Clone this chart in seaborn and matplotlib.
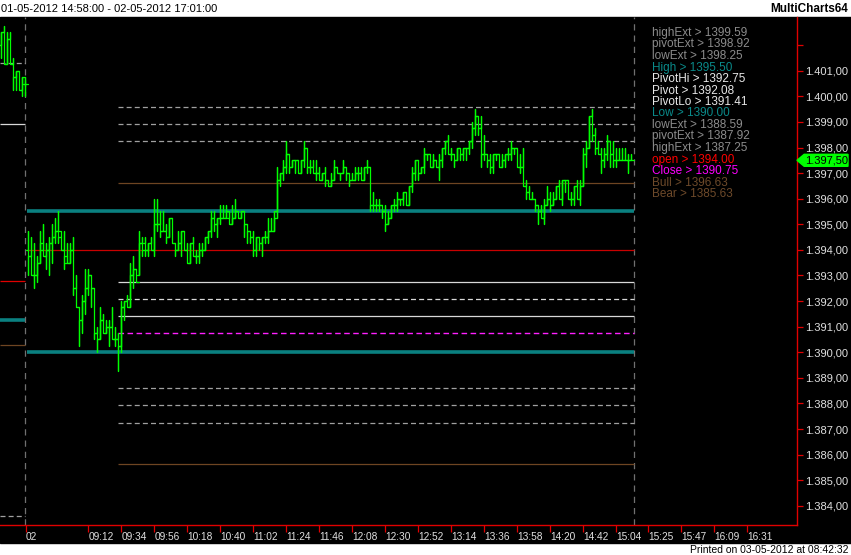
import numpy as np
import pandas as pd
import matplotlib
matplotlib.use("Agg")
import matplotlib.pyplot as plt
import matplotlib.transforms as mtransforms
from matplotlib.patches import Polygon, Rectangle
import seaborn as sns

# tail of previous session (01-05), plotted left of the day separator
prev_open = [1402.0, 1402.5, 1401.25, 1402.25, 1401.25, 1400.75, 1401.0, 1400.25, 1400.5]
prev_high = [1402.5, 1402.75, 1402.5, 1402.5, 1401.5, 1401.0, 1401.0, 1400.75, 1400.75]
prev_low = [1401.5, 1401.25, 1401.25, 1401.25, 1400.25, 1400.25, 1400.25, 1400.0, 1400.0]
prev_close = [1402.5, 1401.25, 1402.25, 1401.25, 1400.75, 1401.0, 1400.25, 1400.75, 1400.5]

# session 02-05, 2-minute bars (first bar closes 08:32)
bar_open = [
    1394.0, 1393.75, 1393.0, 1393.0, 1393.5, 1394.0, 1393.75, 1394.0, 1394.25, 1394.5,
    1394.75, 1394.75, 1394.0, 1393.5, 1393.5, 1394.0, 1392.5, 1391.75, 1391.25, 1392.0,
    1392.5, 1393.0, 1392.5, 1390.75, 1390.5, 1391.25, 1390.75, 1391.0, 1391.0, 1390.5,
    1390.5, 1390.25, 1391.75, 1392.0, 1391.75, 1393.0, 1393.25, 1393.0, 1394.25, 1394.25,
    1394.0, 1394.25, 1394.0, 1395.0, 1395.0, 1394.75, 1394.75, 1394.5, 1395.25, 1394.25,
    1394.0, 1394.25, 1394.75, 1394.0, 1393.5, 1394.25, 1393.75, 1393.75, 1394.0, 1394.0,
    1394.5, 1394.75, 1395.25, 1395.0, 1395.25, 1395.25, 1395.25, 1395.25, 1395.0, 1395.25,
    1395.5, 1395.25, 1395.5, 1395.0, 1394.75, 1394.5, 1394.0, 1394.5, 1394.25, 1394.5,
    1394.5, 1394.75, 1394.75, 1395.5, 1396.75, 1397.0, 1397.25, 1397.75, 1397.25, 1397.5,
    1397.5, 1397.0, 1397.5, 1398.0, 1397.25, 1397.25, 1397.0, 1397.0, 1396.75, 1397.0,
    1396.75, 1396.5, 1396.75, 1397.25, 1397.0, 1397.0, 1397.25, 1397.0, 1396.75, 1396.75,
    1397.0, 1397.0, 1396.75, 1397.25, 1397.25, 1395.75, 1395.75, 1395.75, 1395.75, 1395.5,
    1395.0, 1395.25, 1395.75, 1395.75, 1396.0, 1396.0, 1396.25, 1395.75, 1396.5, 1397.0,
    1397.5, 1397.0, 1397.25, 1397.75, 1397.75, 1397.25, 1397.5, 1397.25, 1397.5, 1398.0,
    1398.25, 1397.75, 1397.75, 1397.5, 1398.0, 1397.75, 1398.0, 1398.0, 1398.25, 1398.75,
    1399.25, 1398.75, 1397.75, 1397.75, 1397.5, 1397.25, 1397.75, 1397.75, 1397.25, 1397.5,
    1397.75, 1397.75, 1398.0, 1398.0, 1397.25, 1397.25, 1396.5, 1396.25, 1396.0, 1396.0,
    1395.75, 1395.5, 1395.25, 1395.75, 1396.0, 1395.75, 1396.0, 1396.5, 1396.0, 1396.75,
    1396.75, 1396.0, 1396.0, 1396.5, 1396.0, 1396.5, 1397.75, 1398.0, 1399.25, 1398.5,
    1398.0, 1397.75, 1397.5, 1397.75, 1398.25, 1397.75, 1397.5, 1397.5, 1397.5, 1397.5,
    1397.5, 1397.5,
]
bar_high = [
    1394.75, 1394.5, 1394.25, 1393.75, 1394.75, 1395.0, 1394.25, 1394.5, 1395.0, 1395.25,
    1395.5, 1394.75, 1394.75, 1394.25, 1394.25, 1394.5, 1393.0, 1391.75, 1392.25, 1393.25,
    1393.25, 1393.0, 1392.5, 1391.0, 1391.75, 1391.5, 1391.25, 1391.25, 1391.75, 1391.0,
    1390.75, 1392.0, 1392.0, 1392.25, 1393.5, 1393.75, 1393.25, 1394.75, 1394.5, 1394.5,
    1394.25, 1394.5, 1396.0, 1396.0, 1395.5, 1395.5, 1395.0, 1395.25, 1395.25, 1394.25,
    1394.75, 1394.75, 1394.75, 1394.25, 1394.25, 1394.5, 1394.0, 1394.25, 1394.25, 1394.5,
    1394.75, 1395.5, 1395.5, 1395.25, 1395.75, 1395.75, 1395.75, 1395.5, 1395.75, 1396.0,
    1395.5, 1395.5, 1395.5, 1395.0, 1394.75, 1394.75, 1394.5, 1394.5, 1394.5, 1394.75,
    1395.25, 1395.25, 1395.5, 1397.25, 1397.0, 1397.5, 1398.25, 1397.75, 1397.5, 1397.5,
    1397.5, 1397.5, 1398.25, 1398.0, 1397.5, 1397.5, 1397.5, 1397.25, 1397.0, 1397.25,
    1396.75, 1397.0, 1397.5, 1397.25, 1397.0, 1397.5, 1397.25, 1397.0, 1397.0, 1397.25,
    1397.25, 1397.25, 1397.25, 1397.5, 1397.25, 1396.25, 1396.0, 1396.0, 1395.75, 1395.75,
    1395.5, 1395.75, 1396.0, 1396.25, 1396.0, 1396.25, 1396.25, 1396.5, 1397.25, 1397.5,
    1397.5, 1397.25, 1398.0, 1397.75, 1397.75, 1397.75, 1397.5, 1397.75, 1398.0, 1398.25,
    1398.5, 1398.0, 1397.75, 1398.0, 1398.0, 1398.0, 1398.0, 1398.25, 1399.0, 1399.5,
    1399.25, 1399.25, 1398.5, 1397.75, 1397.75, 1397.75, 1397.75, 1397.75, 1397.75, 1397.75,
    1398.0, 1398.25, 1398.0, 1398.0, 1397.75, 1398.0, 1396.75, 1396.5, 1396.25, 1396.0,
    1395.75, 1395.75, 1396.0, 1396.5, 1396.25, 1396.25, 1396.5, 1396.75, 1396.75, 1396.75,
    1396.75, 1396.25, 1396.5, 1396.75, 1396.75, 1398.0, 1398.25, 1399.25, 1399.5, 1398.75,
    1398.25, 1398.0, 1398.0, 1398.5, 1398.25, 1398.25, 1398.0, 1398.0, 1398.0, 1398.0,
    1397.75, 1397.75,
]
bar_low = [
    1393.0, 1393.0, 1392.5, 1392.75, 1393.5, 1393.75, 1393.25, 1393.0, 1393.5, 1394.25,
    1394.25, 1394.0, 1393.25, 1393.5, 1393.5, 1392.25, 1391.75, 1390.25, 1390.75, 1391.5,
    1392.25, 1391.75, 1390.5, 1390.0, 1390.5, 1390.75, 1390.75, 1390.25, 1390.5, 1390.25,
    1389.25, 1390.0, 1391.25, 1391.75, 1391.75, 1392.5, 1392.75, 1393.0, 1393.75, 1393.75,
    1393.75, 1394.0, 1393.75, 1394.75, 1394.5, 1394.75, 1394.25, 1394.5, 1394.25, 1393.75,
    1394.0, 1393.75, 1394.0, 1393.5, 1393.5, 1393.75, 1393.5, 1393.5, 1393.75, 1394.0,
    1394.25, 1394.5, 1394.75, 1394.5, 1395.0, 1395.25, 1395.25, 1395.0, 1395.0, 1395.25,
    1395.25, 1395.25, 1394.5, 1394.25, 1394.25, 1393.75, 1393.75, 1394.0, 1393.75, 1394.25,
    1394.25, 1394.75, 1394.75, 1395.25, 1396.5, 1396.75, 1397.0, 1397.0, 1397.25, 1397.0,
    1397.0, 1397.0, 1397.25, 1397.0, 1397.0, 1397.0, 1396.75, 1396.75, 1396.75, 1396.5,
    1396.5, 1396.5, 1396.75, 1397.0, 1396.75, 1397.0, 1396.75, 1396.5, 1396.75, 1396.75,
    1396.75, 1396.75, 1396.75, 1397.0, 1395.5, 1395.5, 1395.5, 1395.5, 1395.25, 1394.75,
    1395.0, 1395.25, 1395.5, 1395.5, 1395.75, 1395.75, 1395.75, 1395.75, 1396.25, 1396.75,
    1396.75, 1397.0, 1397.0, 1397.5, 1397.25, 1397.25, 1397.25, 1396.75, 1397.25, 1397.75,
    1397.75, 1397.5, 1397.25, 1397.5, 1397.5, 1397.5, 1397.5, 1397.75, 1398.0, 1398.5,
    1398.5, 1397.25, 1397.5, 1397.25, 1397.0, 1397.0, 1397.5, 1397.25, 1397.25, 1397.25,
    1397.5, 1397.5, 1397.75, 1397.25, 1397.0, 1396.5, 1396.0, 1396.0, 1396.0, 1395.5,
    1395.0, 1395.25, 1395.0, 1395.75, 1395.5, 1395.75, 1396.0, 1396.0, 1395.75, 1396.25,
    1396.0, 1395.75, 1395.75, 1396.0, 1395.75, 1396.5, 1397.25, 1398.0, 1398.25, 1397.75,
    1397.75, 1397.0, 1397.25, 1397.5, 1397.25, 1397.25, 1397.25, 1397.5, 1397.5, 1397.5,
    1397.0, 1397.5,
]
bar_close = [
    1393.75, 1393.0, 1393.0, 1393.5, 1394.25, 1393.75, 1394.0, 1394.25, 1394.5, 1394.75,
    1394.5, 1394.0, 1393.75, 1393.5, 1394.0, 1392.5, 1391.75, 1391.25, 1392.0, 1392.5,
    1393.0, 1392.5, 1390.75, 1390.5, 1391.25, 1390.75, 1391.0, 1391.0, 1390.5, 1390.5,
    1390.25, 1391.75, 1392.0, 1391.75, 1393.0, 1393.25, 1392.75, 1394.25, 1394.0, 1394.0,
    1394.25, 1394.0, 1395.0, 1395.0, 1394.75, 1394.75, 1394.5, 1395.25, 1394.25, 1394.0,
    1394.25, 1394.75, 1394.0, 1393.5, 1394.25, 1393.75, 1393.75, 1394.0, 1394.0, 1394.5,
    1394.75, 1395.25, 1395.0, 1395.25, 1395.25, 1395.25, 1395.5, 1395.0, 1395.25, 1395.5,
    1395.25, 1395.5, 1395.0, 1394.75, 1394.5, 1394.0, 1394.5, 1394.25, 1394.5, 1394.5,
    1394.75, 1394.75, 1395.25, 1396.75, 1397.0, 1397.25, 1397.75, 1397.25, 1397.5, 1397.5,
    1397.0, 1397.5, 1398.0, 1397.25, 1397.25, 1397.0, 1397.0, 1396.75, 1397.0, 1396.75,
    1396.5, 1396.75, 1397.25, 1397.0, 1397.0, 1397.25, 1397.0, 1396.75, 1396.75, 1397.0,
    1397.0, 1396.75, 1397.25, 1397.25, 1395.75, 1395.75, 1395.75, 1395.75, 1395.5, 1395.0,
    1395.25, 1395.75, 1395.75, 1396.0, 1396.0, 1396.25, 1395.75, 1396.5, 1397.0, 1397.5,
    1397.0, 1397.25, 1397.75, 1397.75, 1397.25, 1397.5, 1397.25, 1397.5, 1398.0, 1398.25,
    1397.75, 1397.75, 1397.5, 1398.0, 1397.75, 1398.0, 1398.0, 1398.25, 1398.75, 1399.25,
    1398.75, 1397.75, 1397.75, 1397.5, 1397.25, 1397.75, 1397.75, 1397.25, 1397.5, 1397.75,
    1397.75, 1398.0, 1398.0, 1397.25, 1397.25, 1396.5, 1396.25, 1396.0, 1396.0, 1395.75,
    1395.5, 1395.25, 1395.75, 1396.0, 1395.75, 1396.0, 1396.5, 1396.0, 1396.75, 1396.75,
    1396.0, 1396.0, 1396.5, 1396.0, 1396.5, 1397.75, 1398.0, 1399.25, 1398.5, 1398.0,
    1397.75, 1397.5, 1397.75, 1398.25, 1397.75, 1397.5, 1397.5, 1397.5, 1397.5, 1397.5,
    1397.5, 1397.5,
]

# indicator levels, listed in the order of the text block on the right
level_names = ['highExt', 'pivotExt', 'lowExt', 'High', 'PivotHi', 'Pivot', 'PivotLo',
               'Low', 'lowExt', 'pivotExt', 'highExt', 'open', 'Close', 'Bull', 'Bear']
level_values = [1399.59, 1398.92, 1398.25, 1395.50, 1392.75, 1392.08, 1391.41,
                1390.00, 1388.59, 1387.92, 1387.25, 1394.00, 1390.75, 1396.63, 1385.63]
# same indicator, previous session (only the short stubs left of the separator)
prev_levels = [1401.30, 1398.92, 1392.78, 1391.26, 1390.29, 1383.60]

time_labels = ['02', '09:12', '09:34', '09:56', '10:18', '10:40', '11:02', '11:24', '11:46',
               '12:08', '12:30', '12:52', '13:14', '13:36', '13:58', '14:20', '14:42',
               '15:04', '15:25', '15:47', '16:09', '16:31']
price_ticks = list(range(1384, 1403))
last_price = 1397.50

GREEN = '#00ff00'
TEAL = '#0a8080'
RED = '#e00000'
EXT = '#a0a0a0'
PIV = '#d8d8d8'
BROWN = '#6e4522'
MAG = '#ff20ff'

level_style = {
    'highExt': (EXT, (0, (4, 2.5)), 0.9, 'late'),
    'pivotExt': (EXT, (0, (4, 2.5)), 0.9, 'late'),
    'lowExt': (EXT, (0, (4, 2.5)), 0.9, 'late'),
    'High': (TEAL, '-', 2.6, 'early'),
    'Low': (TEAL, '-', 2.6, 'early'),
    'PivotHi': (PIV, '-', 0.9, 'late'),
    'Pivot': (PIV, (0, (4, 2.5)), 0.9, 'late'),
    'PivotLo': (PIV, '-', 0.9, 'late'),
    'open': ('#c80000', '-', 0.9, 'early'),
    'Close': (MAG, (0, (4, 2.5)), 1.0, 'late'),
    'Bull': (BROWN, '-', 0.9, 'late'),
    'Bear': (BROWN, '-', 0.9, 'late'),
}
label_color = {
    'highExt': '#8c8c8c', 'pivotExt': '#8c8c8c', 'lowExt': '#8c8c8c',
    'High': '#0a8a8a', 'Low': '#0a8a8a',
    'PivotHi': '#e8e8e8', 'Pivot': '#e8e8e8', 'PivotLo': '#e8e8e8',
    'open': '#ff0000', 'Close': '#ff00ff', 'Bull': '#6e4a2a', 'Bear': '#6e4a2a',
}
prev_style = [(EXT, (0, (4, 2.5)), 0.9), (PIV, '-', 0.9), (RED, '-', 0.9),
              (TEAL, '-', 2.6), (BROWN, '-', 0.9), (EXT, (0, (4, 2.5)), 0.9)]


def bar_pos(t):
    h, m = map(int, t.split(':'))
    return (h * 60 + m - (8 * 60 + 32)) / 2.0


def price_fmt(v):
    s = f"{v:,.2f}"
    return s.replace(',', '#').replace('.', ',').replace('#', '.')


sns.set_theme(style='dark')
plt.rcParams['font.family'] = ['Liberation Sans', 'DejaVu Sans']

W, H = 851, 555
fig = plt.figure(figsize=(W / 100, H / 100), dpi=100, facecolor='white')
fig.add_artist(Rectangle((0, 12 / H), 1, (543 - 17) / H, transform=fig.transFigure,
                         color='black', zorder=-5))
ax = fig.add_axes([0, 30 / H, 797 / W, (525 - 17) / H])
ax.set_facecolor('black')

# OHLC bars as one polyline each: open tick -> high/low stem -> close tick
xs = list(range(-len(prev_open), 0)) + list(range(len(bar_open)))
opens = prev_open + bar_open
highs = prev_high + bar_high
lows = prev_low + bar_low
closes = prev_close + bar_close
rows = []
for k, (x, o, hi, lo, c) in enumerate(zip(xs, opens, highs, lows, closes)):
    for px, py in [(x - 0.8, o), (x, o), (x, hi), (x, lo), (x, c), (x + 0.8, c)]:
        rows.append({'bar': k, 'x': px, 'price': py})
seg = pd.DataFrame(rows)
sns.lineplot(data=seg, x='x', y='price', units='bar', estimator=None, sort=False,
             color=GREEN, lw=0.9, ax=ax, legend=False, zorder=5)

# indicator levels for the current session
x_end = len(bar_open) - 0.1
for name, val in zip(level_names, level_values):
    col, ls, lw, start = level_style[name]
    x0 = -0.45 if start == 'early' else 30
    ax.hlines(val, x0, x_end, colors=col, linestyles=ls, lw=lw, zorder=3)

# previous session stubs
for val, (col, ls, lw) in zip(prev_levels, prev_style):
    ax.hlines(val, -9.5, -1.2, colors=col, linestyles=ls, lw=lw, zorder=3)

# session separators
for xv in [-1.1, len(bar_open) - 0.1]:
    ax.axvline(xv, color='#707070', lw=0.9, ls=(0, (5, 4)), zorder=2)

ax.set_xlim(-9.43, 256.2)
ax.set_ylim(1383.25, 1403.1)
ax.set_xlabel('')
ax.set_ylabel('')

# axes / ticks
for s in ['top', 'left']:
    ax.spines[s].set_visible(False)
for s in ['right', 'bottom']:
    ax.spines[s].set_visible(True)
    ax.spines[s].set_color(RED)
    ax.spines[s].set_linewidth(1.0)
ax.yaxis.tick_right()
ax.set_yticks(price_ticks)
ax.set_yticklabels([price_fmt(v) if v < 1402 else '' for v in price_ticks])
ax.tick_params(axis='y', which='both', right=True, left=False, direction='out',
               length=4, width=0.9, color=RED, labelcolor='#e0e0e0', labelsize=8, pad=2)
xt = [-0.8] + [bar_pos(t) for t in time_labels[1:]]
ax.set_xticks(xt)
ax.set_xticklabels(time_labels, ha='left')
ax.tick_params(axis='x', which='both', bottom=True, direction='out', length=5,
               width=0.9, color=RED, labelcolor='#e0e0e0', labelsize=7.3, pad=0)
ax.grid(False)

# last price marker
trans = mtransforms.blended_transform_factory(ax.transAxes, ax.transData)
hh = 6 / 25.6
marker = Polygon([(1.0, last_price), (1.009, last_price + hh), (1.064, last_price + hh),
                  (1.064, last_price - hh), (1.009, last_price - hh)],
                 closed=True, transform=trans, facecolor=GREEN, edgecolor=GREEN,
                 clip_on=False, zorder=10)
ax.add_patch(marker)
ax.text(1.037, last_price, price_fmt(last_price), transform=trans, ha='center',
        va='center', fontsize=8, color='black', clip_on=False, zorder=11)

# indicator text block
for k, (name, val) in enumerate(zip(level_names, level_values)):
    fig.text(652 / W, 1 - (33 + 11.5 * k) / H, f"{name} > {val:.2f}",
             color=label_color[name], fontsize=8.5, ha='left', va='center')

# header / footer strips
fig.text(1 / W, 1 - 8.5 / H, "01-05-2012 14:58:00 - 02-05-2012 17:01:00", fontsize=8,
         color='black', ha='left', va='center')
fig.text(848 / W, 1 - 8.5 / H, "MultiCharts64", fontsize=8.5, fontweight='bold',
         color='black', ha='right', va='center')
fig.text(848 / W, 1 - 550 / H, "Printed on 03-05-2012 at 08:42:32", fontsize=7.5,
         color='black', ha='right', va='center', zorder=10)

fig.savefig('out.png', dpi=100, facecolor=fig.get_facecolor())
